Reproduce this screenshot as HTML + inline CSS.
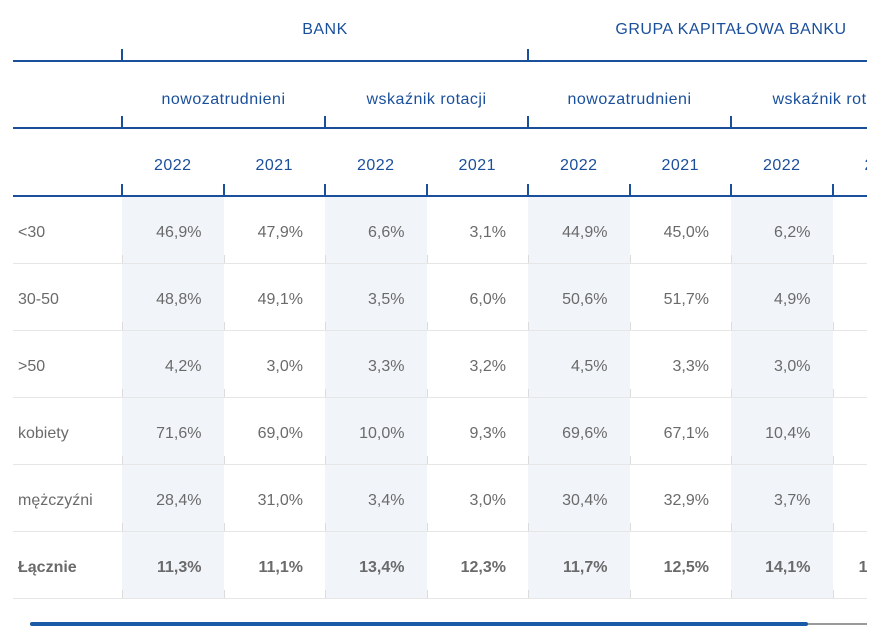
<!DOCTYPE html>
<html><head><meta charset="utf-8"><style>
body{margin:0;width:871px;height:626px;background:#fff;overflow:hidden;font-family:"Liberation Sans",sans-serif;}
#clip{position:absolute;left:0;top:0;width:867px;height:610px;overflow:hidden;}
.a{position:absolute;}
.h{color:#1a4f9c;font-size:16px;letter-spacing:0.5px;text-align:center;white-space:nowrap;}
.v{color:#6a6a6a;font-size:16px;white-space:nowrap;text-align:right;}
.lab{color:#6a6a6a;font-size:16px;white-space:nowrap;}
</style></head><body>
<div id="clip"></div>
<div class="a" style="left:30px;top:623px;width:837px;height:2px;background:#9a9a9a"></div>
<div class="a" style="left:30px;top:622px;width:778px;height:4px;background:#1a5aa6;border-radius:2px"></div>
<script>
const groups=["BANK","GRUPA KAPITAŁOWA BANKU"];
const subgroups=["nowozatrudnieni","wskaźnik rotacji","nowozatrudnieni","wskaźnik rotacji"];
const years=["2022","2021","2022","2021","2022","2021","2022","2021"];
const rows=["<30","30-50",">50","kobiety","mężczyźni","Łącznie"];
const r0=["46,9%","47,9%","6,6%","3,1%","44,9%","45,0%","6,2%","3,0%"];
const r1=["48,8%","49,1%","3,5%","6,0%","50,6%","51,7%","4,9%","6,1%"];
const r2=["4,2%","3,0%","3,3%","3,2%","4,5%","3,3%","3,0%","3,1%"];
const r3=["71,6%","69,0%","10,0%","9,3%","69,6%","67,1%","10,4%","9,5%"];
const r4=["28,4%","31,0%","3,4%","3,0%","30,4%","32,9%","3,7%","3,2%"];
const r5=["11,3%","11,1%","13,4%","12,3%","11,7%","12,5%","14,1%","13,0%"];
const values=[r0,r1,r2,r3,r4,r5];

const C=document.getElementById('clip');
const X0=122,CW=101.5,RT=197,RH=67;
const colX=i=>X0+i*CW;
function box(css,txt,cls){const d=document.createElement('div');d.className='a '+(cls||'');d.style.cssText=css;if(txt!==undefined)d.textContent=txt;C.appendChild(d);return d;}
for(let i=0;i<8;i+=2){const d=box(`left:${colX(i)}px;top:${RT}px;width:${CW}px;height:${RH*rows.length}px;background:#f1f4f9`);

}
[[61,13],[128,13],[196,13]].forEach(([y,x])=>{const d=box(`left:${x}px;top:${y-1}px;width:900px;height:2px;background:#1a4f9c`);

});
function tick(x,y){const d=box(`left:${x-1}px;top:${y-12}px;width:2px;height:12px;background:#1a4f9c`);

}
groups.forEach((g,i)=>{const d=box(`left:${colX(i*4)}px;top:21px;width:${CW*4}px`,g,'h');

tick(colX(i*4),61);});
subgroups.forEach((g,i)=>{const d=box(`left:${colX(i*2)}px;top:91px;width:${CW*2}px`,g,'h');

tick(colX(i*2),128);});
years.forEach((y,i)=>{const d=box(`left:${colX(i)}px;top:157px;width:${CW}px`,y,'h');

tick(colX(i),196);});
rows.forEach((r,ri)=>{
 const top=RT+ri*RH;const bold=ri===rows.length-1;
 const l=box(`left:18px;top:${top+27}px;${bold?'font-weight:bold;':''}`,r,'lab');
 
 
 const ln=box(`left:13px;top:${top+RH-1}px;width:900px;height:1px;background:#e6e6e6`);
 
 
 values[ri].forEach((v,ci)=>{
  const pad=(ci===7)?30:22;
  const c=box(`left:${colX(ci)}px;top:${top+27}px;width:${CW-pad}px;${bold?'font-weight:bold;':''}`,v,'v');
  
  
  const t=box(`left:${colX(ci)}px;top:${top+RH-9}px;width:1px;height:8px;background:#dcdcdc`);
  
  
 });
});
</script>
</body></html>
